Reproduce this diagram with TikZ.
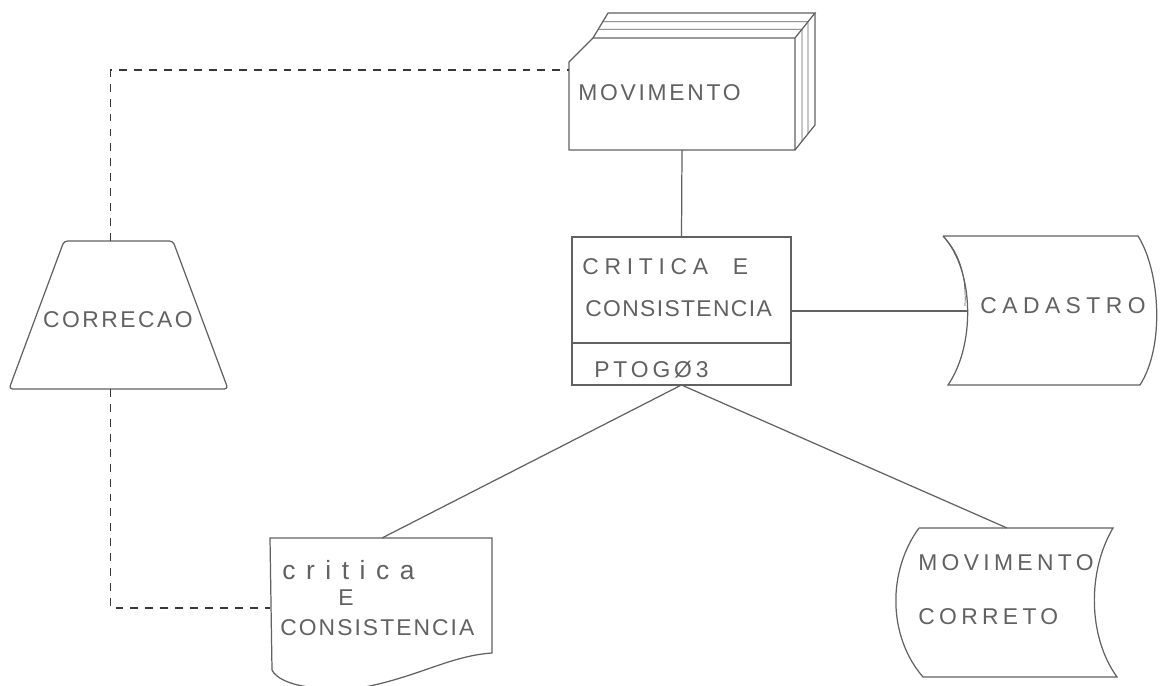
\documentclass[tikz,border=0pt]{standalone}
\usepackage{fontspec}
\newfontfamily\handfont{Liberation Sans}
\usetikzlibrary{calc}

\begin{document}
\begin{tikzpicture}[
    pencil/.style={draw=black!62, line width=0.7pt},
    link/.style={pencil},
    dashlink/.style={draw=black!78, line width=1.1pt, dash pattern=on 4.5pt off 4pt},
    hand/.style={font=\handfont\fontsize{13}{15}\selectfont\addfontfeature{LetterSpace=#1}, text=black!62, inner sep=0pt},
    hand/.default=12,
    bighand/.style={font=\handfont\fontsize{15}{17}\selectfont\addfontfeature{LetterSpace=#1}, text=black!62, inner sep=0pt},
    frame/.style={rectangle, draw=none, inner sep=0, outer sep=0}
]
    \useasboundingbox (0,0) rectangle (23.24,13.72);

    % =========================================================
    % MOVIMENTO (card deck)
    % =========================================================
    \node[frame, minimum width=4.52cm, minimum height=2.24cm] (mov) at (13.64, 11.84) {};
    \draw[pencil] (mov.south west) -- ($(mov.north west)+(0,-0.48)$) -- ($(mov.north west)+(0.48,0)$) coordinate (tl)
        -- (mov.north east) -- (mov.south east) -- cycle;
    \draw[pencil] (tl) -- ++(0.3,0.5) coordinate (btl) -- ++(4.14,0) coordinate (btr) -- (mov.north east);
    \draw[pencil] (btr) -- ($(mov.south east)+(0.4,0.5)$) coordinate (bbr) -- (mov.south east);
    \foreach \f in {0.35,0.65} {
        \draw[pencil, thin] ($(tl)!\f!(btl)$) -- ($(mov.north east)!\f!(btr)$) -- ($(mov.south east)!\f!(bbr)$);
    }
    \node[hand, anchor=west] (movtxt) at (11.56, 11.86) {MOVIMENTO};

    % =========================================================
    % CRITICA E CONSISTENCIA (process)
    % =========================================================
    \node[frame, pencil, minimum width=4.38cm, minimum height=2.96cm] (crit) at (13.63, 7.5) {};
    \draw[pencil] ($(crit.west)+(0,-0.64)$) -- ($(crit.east)+(0,-0.64)$);
    \node[hand=25, anchor=west] (crit1) at (11.64, 8.38) {CRITICA\hspace{0.5cm}E};
    \node[hand=6, anchor=west] (crit2) at (11.7, 7.54) {CONSISTENCIA};
    \node[hand=17, anchor=west] (prog) at (11.88, 6.32) {PTOG\O3};

    % =========================================================
    % CADASTRO (stored data)
    % =========================================================
    \draw[pencil] (18.86,9.0) -- (22.76,9.0) .. controls (23.2,8.3) and (23.3,6.8) .. (22.8,6.02)
        -- (18.96,6.02) .. controls (19.5,6.8) and (19.5,8.3) .. (18.86,9.0);
    \draw[pencil, thin] (18.86,9.0) .. controls (19.25,8.6) and (19.32,8.1) .. (19.3,7.6);
    \coordinate (cadw) at (19.35, 7.5);
    \node[hand=24, anchor=west] (cad) at (19.6, 7.6) {CADASTRO};

    % =========================================================
    % CORRECAO (manual operation)
    % =========================================================
    \node[frame, minimum width=4.38cm, minimum height=2.96cm] (corr) at (2.37, 7.42) {};
    \draw[pencil, rounded corners=2pt] (corr.south west) -- ($(corr.north west)+(1.1,0)$) -- ($(corr.north east)+(-1.1,0)$)
        -- (corr.south east) -- cycle;
    \node[hand=11] (corrtxt) at (2.36, 7.32) {CORRECAO};

    % =========================================================
    % CRITICA E CONSISTENCIA (document)
    % =========================================================
    \draw[pencil] (5.4,2.96) -- (9.84,2.96) -- (9.84,0.66)
        .. controls (9.0,0.6) and (8.4,0.2) .. (7.3,-0.02)
        .. controls (6.4,-0.12) and (5.6,0.0) .. (5.44,0.32) -- cycle;
    \coordinate (docn) at (7.64, 2.96);
    \coordinate (docw) at (5.4, 1.56);
    \node[bighand=40, anchor=west] (doc1) at (5.64, 2.32) {critica};
    \node[hand, anchor=west] (doc2) at (6.76, 1.76) {E};
    \node[hand=9, anchor=west] (doc3) at (5.6, 1.16) {CONSISTENCIA};

    % =========================================================
    % MOVIMENTO CORRETO (stored data)
    % =========================================================
    \draw[pencil] (18.38,3.16) -- (22.26,3.16) .. controls (21.75,2.3) and (21.75,1.0) .. (22.34,0.18)
        -- (18.46,0.18) .. controls (17.75,1.0) and (17.75,2.3) .. (18.38,3.16);
    \coordinate (mcn) at (20.14, 3.16);
    \node[hand=19, anchor=west] (mc1) at (18.36, 2.46) {MOVIMENTO};
    \node[hand=19, anchor=west] (mc2) at (18.36, 1.38) {CORRETO};

    % Connectors
    \draw[link] (mov.south) -- (crit.north);
    \draw[link] (crit.east) -- (cadw);
    \draw[link] (crit.south) -- (docn);
    \draw[link] (crit.south) -- (mcn);
    \draw[dashlink] ([xshift=-0.16cm]corr.north) |- ($(mov.north west)!0.29!(mov.south west)$);
    \draw[dashlink] ([xshift=-0.16cm]corr.south) |- (docw);

\end{tikzpicture}
\end{document}
